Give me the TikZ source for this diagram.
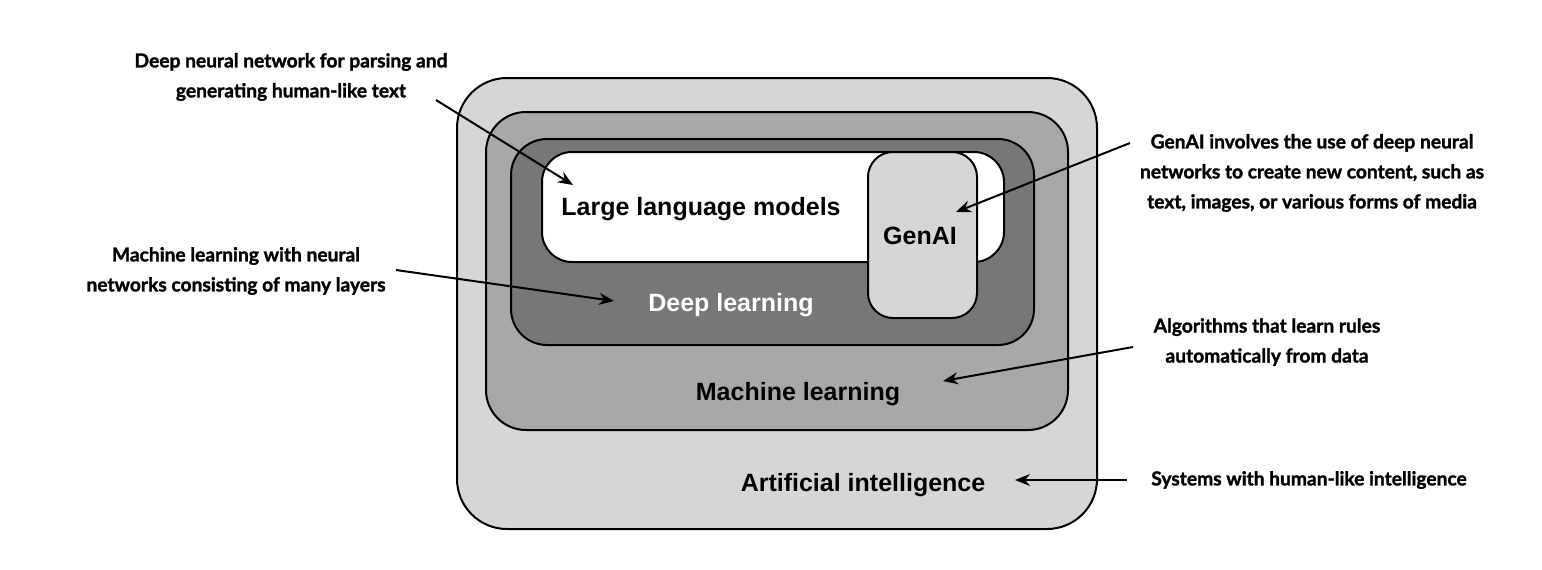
\documentclass[tikz,border=0pt]{standalone}
\usepackage{fontspec}
\setmainfont{Liberation Sans}
\newfontfamily\notefont{Lato}[BoldFeatures={FakeBold=1.5}]
\usetikzlibrary{arrows.meta}
\definecolor{aigray}{HTML}{D6D6D6}
\definecolor{mlgray}{HTML}{A8A8A8}
\definecolor{dlgray}{HTML}{777777}
\tikzset{
  layer/.style={draw=black, line width=2pt, inner sep=0pt},
  boxlabel/.style={font=\fontsize{25}{29}\selectfont\bfseries, inner sep=0pt},
  note/.style={font=\notefont\fontsize{19.2}{30}\selectfont\bfseries, align=center, inner sep=0pt},
  pointer/.style={line width=2pt, -{Stealth[length=15pt,width=12pt]}}
}
\begin{document}
\begin{tikzpicture}[x=1pt,y=-1pt]
\useasboundingbox[fill=white] (0,0) rectangle (1542,570);
% layers
\node[layer, fill=aigray, rounded corners=50pt, minimum width=640pt, minimum height=451pt] (ai) at (777,303.5) {};
\node[layer, fill=mlgray, rounded corners=40pt, minimum width=582pt, minimum height=318pt] (ml) at (777,271) {};
\node[layer, fill=dlgray, rounded corners=36pt, minimum width=523pt, minimum height=206pt] (dl) at (772.5,242) {};
\node[layer, fill=white, rounded corners=30pt, minimum width=462pt, minimum height=110pt] (llm) at (773,207) {};
\node[layer, fill=aigray, rounded corners=25pt, minimum width=109pt, minimum height=166pt] (gen) at (922.5,235) {};
% labels
\node[boxlabel] (llmt) at (701,209) {Large language models};
\node[boxlabel] (gent) at (920,236) {GenAI};
\node[boxlabel, text=white] (dlt) at (731,305) {Deep learning};
\node[boxlabel] (mlt) at (798,394) {Machine learning};
\node[boxlabel] (ait) at (863,485) {Artificial intelligence};
% notes
\node[note] (n1) at (291,77) {Deep neural network for parsing and\\generating human-like text};
\node[note] (n2) at (1312,173) {GenAI involves the use of deep neural\\networks to create new content, such as\\text, images, or various forms of media};
\node[note] (n3) at (236,271) {Machine learning with neural\\networks consisting of many layers};
\node[note] (n4) at (1267,342) {Algorithms that learn rules\\automatically from data};
\node[note] (n5) at (1309,480) {Systems with human-like intelligence};
% arrow ends
\coordinate (s1) at (436,100); \coordinate (e1) at (573,185);
\coordinate (s2) at (1130,143); \coordinate (e2) at (956,212);
\coordinate (s3) at (396,270); \coordinate (e3) at (614,301);
\coordinate (s4) at (1133,347); \coordinate (e4) at (943,381);
\coordinate (s5) at (1127,480); \coordinate (e5) at (1015,480);
\draw[pointer] (s1) -- (e1);
\draw[pointer] (s2) -- (e2);
\draw[pointer] (s3) -- (e3);
\draw[pointer] (s4) -- (e4);
\draw[pointer] (s5) -- (e5);
\end{tikzpicture}
\end{document}
